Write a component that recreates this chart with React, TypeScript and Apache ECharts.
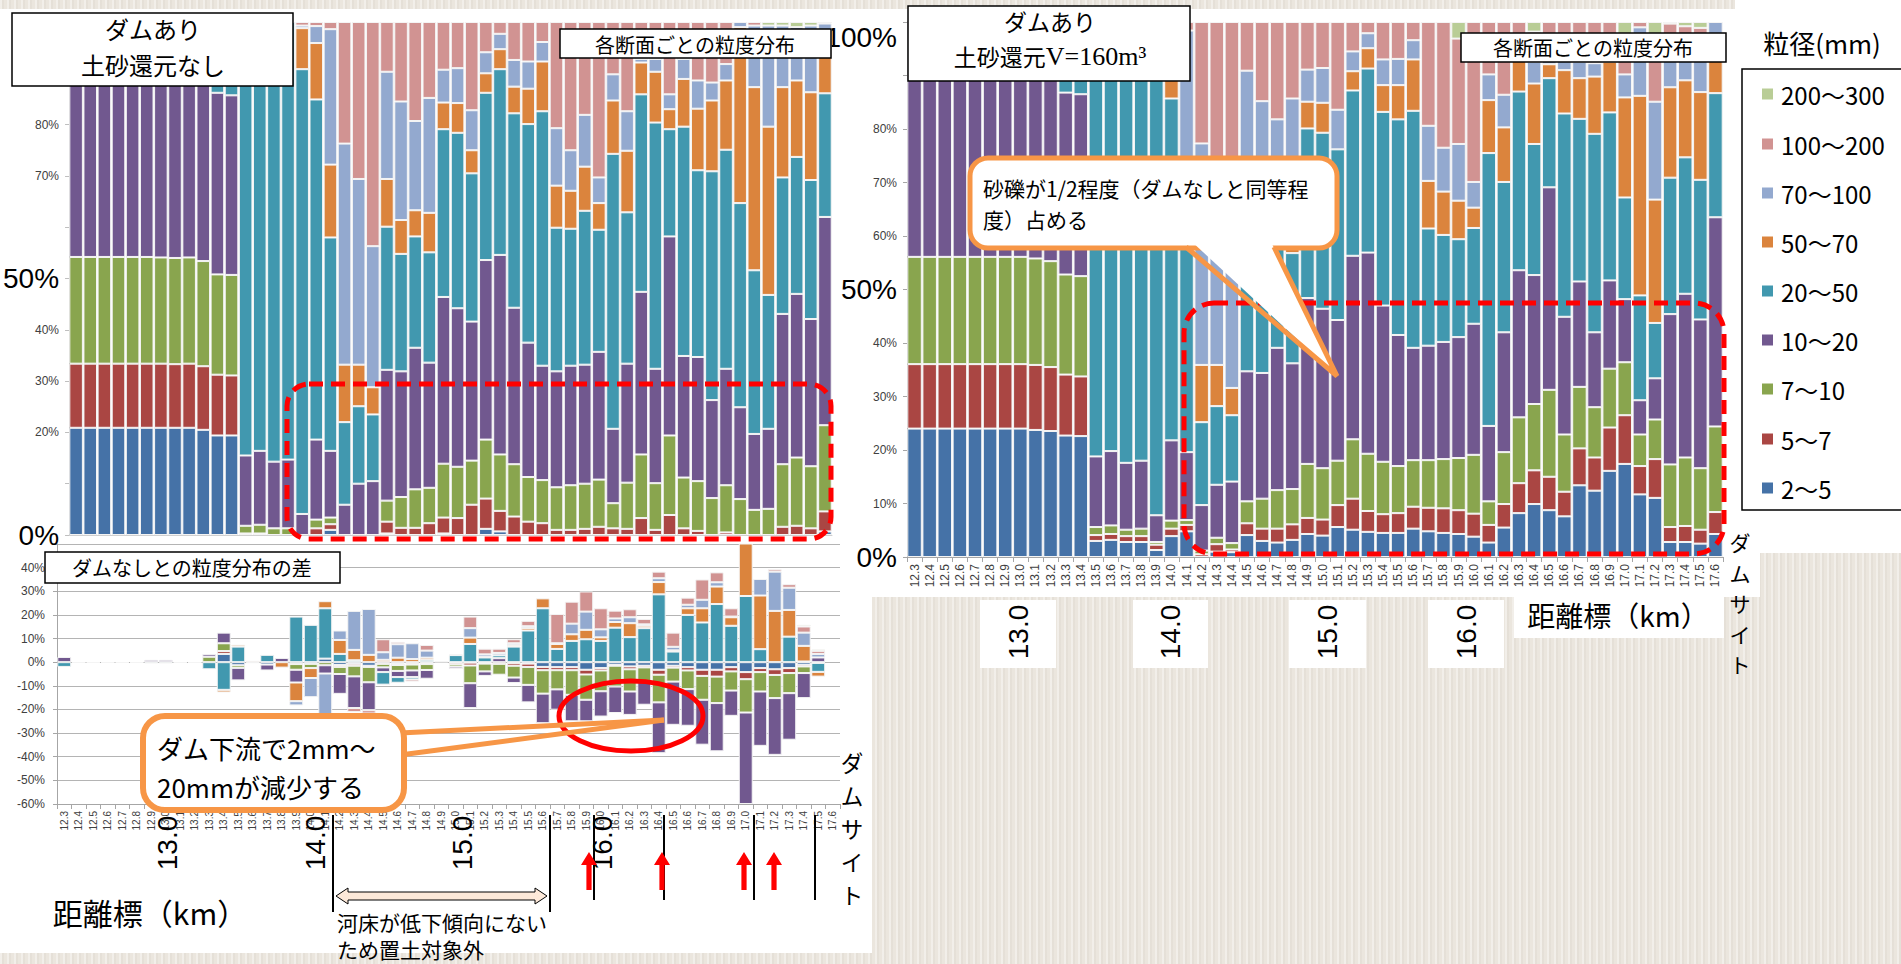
import React, { useEffect, useRef } from 'react';
import * as echarts from 'echarts';

const JP = '"Noto Sans CJK JP", "Noto Sans", sans-serif';
const NUM = '"Liberation Sans", Arial, sans-serif';
const NARROW = '"Liberation Sans Narrow", "Liberation Sans", Arial, sans-serif';
const SERIF = '"Liberation Serif", "DejaVu Serif", serif';

// ---------- categories & classes ----------
const categories = ['12.3','12.4','12.5','12.6','12.7','12.8','12.9','13.0','13.1','13.2','13.3','13.4','13.5','13.6','13.7','13.8','13.9','14.0','14.1','14.2','14.3','14.4','14.5','14.6','14.7','14.8','14.9','15.0','15.1','15.2','15.3','15.4','15.5','15.6','15.7','15.8','15.9','16.0','16.1','16.2','16.3','16.4','16.5','16.6','16.7','16.8','16.9','17.0','17.1','17.2','17.3','17.4','17.5','17.6'];
const sizeClasses = ['2〜5','5〜7','7〜10','10〜20','20〜50','50〜70','70〜100','100〜200','200〜300'];
const classColors = ['#4572a7','#aa4643','#89a54e','#71588f','#4198af','#db843d','#93a9cf','#d19392','#b9cd96'];

// ---------- top-left: dam, no sediment return (cumulative top of each class, %) ----------
const L_2_5 = [20.9,20.9,20.9,20.9,20.9,20.9,20.9,20.9,20.9,20.5, 19.4,19.4,0,0,0,0,0,0,1.0,0, 0,0,0.3,0,0,0,0.3,0,0,1.2, 0.7,0,0,0,0,0,0,0,0,0, 0,0,0,0,0,0,0,0,0,0, 0,0,0,0.7];
const L_5_7 = [33.4,33.4,33.4,33.4,33.4,33.4,33.4,33.3,33.4,32.9, 31.25,31.1,0.3,0.3,0,0,0,1.3,2.1,0, 0,0,2.6,1.4,1.4,2.3,3.4,3.3,5.9,7.1, 4.7,3.6,2.6,2.3,1.0,1.0,1.2,1.6,1.3,1.2, 3.3,1.0,3.9,1.3,0.8,0,0.5,0,0,0, 1.6,1.8,1.3,4.6];
const L_7_10 = [54.2,54.2,54.2,54.2,54.2,54.2,54.1,54.0,54.1,53.4, 50.8,50.7,1.8,2.0,1.3,1.3,0,3.0,3.4,0, 0,0,6.7,7.4,8.9,9.2,13.9,13.3,14.5,18.6, 15.7,13.8,11.3,10.7,9.3,9.7,10.0,10.8,6.2,10.2, 15.7,10.1,19.4,11.2,10.5,7.2,9.7,7.0,4.9,5.1, 13.8,15.1,13.4,21.4];
const L_10_20 = [100,100,100,100,100,100,100,100,100,100, 86.2,85.7,15.5,16.4,14.3,14.7,4.1,18.6,16.4,5.9, 10.0,10.5,32.2,31.9,36.5,33.6,46.4,44.2,41.6,53.6, 54.6,44.3,37.5,33.0,31.9,33.0,33.2,35.7,20.7,33.4, 47.4,32.4,58.2,34.9,34.7,26.3,32.4,24.9,19.7,20.7, 43.1,47.0,42.1,62.0];
const L_20_50 = [100,100,100,100,100,100,100,100,100,100, 100,100,100,100,100,100,90.8,84.9,58.0,22.0, 25.1,23.5,60.1,54.8,58.2,55.1,79.1,78.4,70.5,86.2, 90.8,82.2,80.1,82.6,59.9,59.7,63.2,59.5,74.3,62.9, 85.9,80.4,79.1,79.6,71.1,70.9,75.1,64.7,51.6,46.8, 69.7,73.7,69.2,86.1];
const L_50_70 = [100,100,100,100,100,100,100,100,100,100, 100,100,100,100,100,100,98.8,95.9,72.2,33.2, 33.2,28.8,69.4,61.4,63.3,62.8,84.3,84.2,75.0,90.0, 94.7,87.4,87.0,92.3,68.1,67.1,71.8,64.7,84.7,74.9, 92.1,90.3,83.0,88.9,83.1,84.7,88.6,99.0,87.3,79.6, 87.3,88.6,86.3,96.4];
const L_70_100 = [100,100,100,100,100,100,100,100,100,100, 100,100,100,100,100,100,99.3,99.2,98.6,76.3, 69.4,56.3,90.3,84.5,80.7,85.2,90.7,91.0,82.8,94.1, 97.7,92.6,92.3,96.1,79.3,75.0,81.9,69.7,89.8,82.6, 92.8,92.8,85.9,92.8,88.6,88.2,91.8,100,99.3,99.3, 99.3,99.0,99.3,99.7];
const L_100_200 = [100,100,100,100,100,100,100,100,100,100, 100,100,100,100,100,100,100,100,100,100, 100,100,100,100,100,100,100,100,100,100, 100,100,100,100,100,100,100,100,100,100, 100,100,100,100,100,100,100,100,100,99.3, 99.3,99.0,99.3,100];
const L_200_300 = categories.map(() => 100);

// ---------- top-right: dam, sediment return V=160m3 (cumulative, %) ----------
const R_2_5 = [24.0,24.0,24.0,24.0,24.0,24.0,24.0,24.0,23.75,23.55, 22.7,22.6,3.0,3.2,2.8,2.8,1.3,3.9,4.8,0, 1.0,0.9,4.1,3.0,2.7,3.2,4.3,4.0,5.6,5.1, 4.7,4.5,4.5,5.3,4.8,4.5,4.3,3.8,2.7,5.5, 8.2,9.9,8.75,7.6,13.4,12.4,16.1,17.4,11.7,11.05, 2.8,2.8,2.5,4.3];
const R_5_7 = [36.05,36.05,36.05,36.05,36.05,36.05,36.05,36.05,35.9,35.5, 34.1,33.75,4.1,4.3,3.9,3.9,2.3,5.3,6.0,0.5, 2.4,1.4,6.3,5.3,5.3,6.1,7.3,7.0,9.7,10.9, 8.6,8.0,8.2,9.4,9.2,9.1,8.75,8.1,6.0,9.9, 13.8,16.2,15.0,12.2,20.3,18.6,24.2,26.5,17.0,18.3, 5.6,5.8,5.1,8.4];
const R_7_10 = [56.1,56.1,56.1,56.1,56.1,56.1,56.1,56.1,55.8,55.3, 52.8,52.5,5.6,5.9,5.1,5.3,2.8,6.8,6.9,1.2, 3.6,2.6,10.4,10.9,12.5,12.7,17.4,16.6,18.0,22.0, 19.3,17.8,17.0,18.1,18.1,18.3,18.5,19.1,10.4,19.6, 26.1,28.6,31.25,22.9,31.8,28.0,35.2,36.4,22.9,25.7, 17.3,18.6,16.6,24.4];
const R_10_20 = [100,100,100,100,100,100,100,100,100,100, 86.8,86.5,18.8,19.8,17.6,18.0,7.8,21.8,19.6,9.7, 13.5,14.1,34.7,34.4,39.1,36.2,48.4,46.4,44.3,56.3, 56.9,47.0,41.5,39.1,39.5,40.2,41.1,43.6,24.5,42.0, 53.6,52.7,69.1,44.9,51.5,42.0,51.7,48.2,29.3,33.4, 45.4,49.2,44.4,63.5];
const R_20_50 = [100,100,100,100,100,100,100,100,100,100, 100,100,100,100,100,100,100,85.7,61.0,25.2, 28.2,26.5,60.0,58.0,63.0,56.8,80.1,79.3,76.2,87.2, 91.3,83.2,81.8,83.4,61.4,60.2,59.4,61.5,75.5,70.1, 87.0,77.2,89.5,82.9,81.9,79.1,83.1,67.2,48.9,43.75, 70.9,74.7,70.5,86.7];
const R_50_70 = [100,100,100,100,100,100,100,100,100,100, 100,100,100,100,100,100,100,95.0,72.0,35.9, 35.9,31.6,70.0,64.0,68.0,63.0,85.1,84.9,76.2,90.8, 95.1,88.2,88.2,93.0,70.3,68.3,66.6,65.3,85.4,80.3, 93.0,88.5,92.1,91.0,89.5,89.8,92.6,85.9,86.2,66.8, 87.8,89.1,86.9,96.0];
const R_70_100 = [100,100,100,100,100,100,100,100,100,100, 100,100,100,100,100,100,100,98.0,98.4,77.3, 70.0,58.0,90.9,85.2,81.8,85.7,91.1,91.4,83.6,94.5, 97.9,93.0,93.1,96.6,80.6,76.5,77.2,70.1,90.2,86.4, 96.0,92.6,95.0,93.0,92.6,92.3,92.6,90.2,99.0,85.1, 92.8,93.0,93.0,100];
const R_100_200 = [100,100,100,100,100,100,100,100,100,100, 100,100,100,100,100,100,100,100,100,100, 100,100,100,100,100,100,100,100,100,100, 100,100,100,100,100,100,96.9,100,100,100, 100,98.2,100,100,100,100,100,97.0,100,97.0, 99.7,99.2,98.9,100];
const R_200_300 = categories.map(() => 100);

// ---------- bottom-left: difference from "no dam" (percentage points) ----------
const D_2_5 = [0,0,0,0,0,0,0,0,0,0, 0,3.5,-1.3,0,-1.0,0,-0.8,-0.7,1.5,-1.2, -0.7,-1.5,0,-0.6,-0.5,-0.5,0,-0.2,-0.2,-0.2, 0,-0.4,-0.6,-2.0,-2.1,-2.1,-3.2,-2.5,-1.1,-1.8, -1.5,-3.2,-1.5,-2.1,-3.2,-3.2,-2.1,-4.2,-2.5,-3.0, -2.5,-1.1,-0.3,0];
const D_5_7 = [0,0,0,0,0,0,0,0,0,0, 0,1.2,0,0,0,0,0,0,0,-0.8, -0.8,-0.5,-0.7,-0.6,-0.5,-0.3,0,-0.7,-1.2,-0.4, -0.7,-1.1,-1.4,-1.4,-1.3,-1.3,-2.0,-1.0,-0.4,-1.2, -0.7,-2.1,-0.8,-1.4,-2.6,-2.9,-1.8,-3.0,-1.7,-2.4, -2.1,-0.7,0,0];
const D_7_10 = [0,0,0,0,0,0,0,0,0,0, 2.3,3.3,-1.1,0,0,0,-2.4,-1.8,-1.3,-3.0, -4.5,-6.5,-1.5,-2.5,-2.5,-2.5,0,-1.0,-7.5,-3.3, -4.6,-5.0,-7.6,-9.9,-8.1,-10.4,-10.7,-8.8,-8.8,-9.4, -6.0,-11.7,-5.9,-7.9,-10.1,-11.2,-8.1,-14.1,-8.2,-9.8, -8.5,-2.8,0,0];
const D_10_20 = [2.2,0,0,0,0,0,1.0,1.0,0,0, 1.1,4.5,-5.3,0,-2.5,1.8,-5.4,0,-3.5,-8.4, -13.4,-11.8,-2.0,-2.6,-2.8,-3.7,0,-1.0,-10.5,-1.9, 1.7,-2.3,-7.4,-12.5,-8.6,-11.2,-9.1,-10.7,-11.2,-9.9, -9.8,-21.5,-18.3,-15.5,-19.0,-20.4,-10.7,-38.7,-23.0,-24.0, -19.7,-10.6,2.0,0];
const D_20_50 = [-2.0,-0.3,-0.3,-0.3,-0.3,-0.3,-0.5,-0.5,-0.3,-0.3, -3.0,-11.7,6.6,-0.4,3.1,0,19.3,15.8,21.3,3.5, 0.8,0,-5.3,-2.4,-1.0,1.0,0.3,3.0,7.7,2.0, 1.2,6.6,13.4,22.8,5.6,9.0,9.7,9.0,14.6,10.6, 14.4,28.7,4.5,20.0,16.8,24.6,15.4,28.0,5.5,0, 10.8,0.3,-3.8,0];
const D_50_70 = [0,0,0,0,0,0,0,0,0,0, 0,-1.1,0.8,0.6,0,-2.3,-7.9,-4.2,3.0,5.9, 4.4,3.1,1.0,1.9,1.3,0.9,0,0.3,2.7,0.3, 0,0.6,1.0,4.2,2.1,2.8,4.0,1.5,2.4,5.9, 1.0,5.2,0.5,2.8,6.0,7.4,3.6,24.0,22.7,21.7, 11.3,6.6,-2.0,0];
const D_70_100 = [0,0,0,0,0,0,0,0,0,0, 0,0,0,0,0,0,-1.8,-8.1,-18.5,4.0, 16.5,19.4,3.2,5.7,6.7,3.0,0,0,4.0,1.0, 1.0,0.8,0.8,0,0.3,4.5,7.7,3.4,1.5,2.5, 0.6,1.6,1.5,1.5,3.6,1.8,0.3,0,7.0,16.6, 9.4,5.6,1.5,0];
const D_100_200 = [0,0,0,0,0,0,0,0,0,0, 0,0,0,0,0,0,0,0,0,0, -1.7,-1.4,5.5,1.0,-0.9,2.4,0,0,4.9,2.4, 1.8,1.7,2.3,0,12.4,9.3,8.5,8.9,3.3,3.4, 2.3,2.8,6.0,3.0,8.6,4.2,3.5,0,0,1.0, 1.5,2.6,1.3,0];
const D_200_300 = [0,0,0,0,0,0,0,0,0,0, 0,0,0,0,0,0,0,0,0,0, 0,0,0,0,0,0,0,0,0,0, 0,0,0,0,0,0,0,0,0,0, 0,0,0,0,0,0,0,0,0,0, 0,0.7,0.6,0];

// ---------- tick labels ----------
const leftYLabels = ['0%', '', '20%', '30%', '40%', '50%', '', '70%', '80%', '', ''];
const rightYLabels = ['0%', '10%', '20%', '30%', '40%', '50%', '60%', '70%', '80%', '', '100%'];
const bigYTicks = [0, 50, 100];
const kmMarks = ['13.0', '14.0', '15.0', '16.0'];
const damSiteChars = ['ダ', 'ム', 'サ', 'イ', 'ト'];

// ---------- helpers ----------
function toSegments(cums: number[][]) {
  return cums.map((arr, j) =>
    arr.map((v, i) => {
      const prev = j === 0 ? 0 : cums[j - 1][i];
      const d = Math.round((v - prev) * 100) / 100;
      return d > 0 ? d : null;
    })
  );
}
const clean = (arr: number[]) => arr.map((v) => (v === 0 ? null : v));

function stackSeries(values: (number | null)[][], stack: string, idx: number) {
  return values.map((vals, j) => ({
    type: 'bar',
    name: sizeClasses[j],
    stack,
    xAxisIndex: idx,
    yAxisIndex: idx,
    data: vals,
    barCategoryGap: '4%',
    silent: true,
    itemStyle: { color: classColors[j], borderColor: '#f4f4f4', borderWidth: 1 },
  }));
}

function yLabelFormatter(labels: string[]) {
  return (v: number) => {
    const t = labels[Math.round(v / 10)];
    if (!t) return '';
    if (v === 100) return `{big100|${t}}`;
    if (bigYTicks.includes(v)) return `{big|${t}}`;
    return t;
  };
}
const bigRich = {
  big: { fontSize: 28, color: '#000', fontFamily: NARROW },
  big100: { fontSize: 28, color: '#000', fontFamily: NARROW, padding: [30, 0, 0, 0] },
};

const ORANGE = '#f79646';
const RED = '#ff0000';

function txt(text: string, x: number, y: number, fontSize: number, extra: any = {}) {
  return {
    type: 'text', x, y, z: 110,
    style: { text, fontSize, fontFamily: JP, fill: '#000', align: 'center', verticalAlign: 'middle', ...extra },
  };
}
function box(x: number, y: number, w: number, h: number) {
  return {
    type: 'rect', z: 105,
    shape: { x, y, width: w, height: h },
    style: { fill: '#fff', stroke: '#000', lineWidth: 1.5 },
  };
}
function upArrow(cx: number) {
  const top = 852, bottom = 890, hh = 13, hw = 8, sw = 2.6;
  return {
    type: 'polygon', z: 110,
    shape: { points: [[cx, top], [cx + hw, top + hh], [cx + sw, top + hh], [cx + sw, bottom], [cx - sw, bottom], [cx - sw, top + hh], [cx - hw, top + hh]] },
    style: { fill: RED },
  };
}

const panels = [
  [0, 9, 872, 944],
  [840, 9, 920, 588],
  [1735, 0, 166, 553],
  [980, 600, 76, 68],
  [1133, 600, 75, 68],
  [1289, 600, 77, 68],
  [1428, 600, 76, 68],
  [1514, 594, 210, 44],
];

export default function App() {
  const ref = useRef<HTMLDivElement>(null);

  useEffect(() => {
    if (!ref.current) return;
    const chart = echarts.init(ref.current, null, { renderer: 'svg' });

    const leftSeg = toSegments([L_2_5, L_5_7, L_7_10, L_10_20, L_20_50, L_50_70, L_70_100, L_100_200, L_200_300]);
    const rightSeg = toSegments([R_2_5, R_5_7, R_7_10, R_10_20, R_20_50, R_50_70, R_70_100, R_100_200, R_200_300]);
    const diffSeg = [D_2_5, D_5_7, D_7_10, D_10_20, D_20_50, D_50_70, D_70_100, D_100_200, D_200_300].map(clean);

    const axisGray = '#a6a6a6';
    const xAxisBase = (gridIndex: number, fontSize: number, show: boolean) => ({
      gridIndex, type: 'category', data: categories,
      axisLine: { show: true, onZero: false, lineStyle: { color: show ? axisGray : '#d0d0d0' } },
      axisTick: { show, interval: 0, length: 5, lineStyle: { color: axisGray } },
      axisLabel: { show, interval: 0, rotate: 90, fontSize, color: '#404040', fontFamily: NUM, margin: 7 },
    });

    const graphic: any[] = [];
    // left title
    graphic.push(box(12, 13, 281, 73));
    graphic.push(txt('ダムあり', 153, 28, 24));
    graphic.push(txt('土砂還元なし', 153, 64, 24));
    graphic.push(box(560, 29, 271, 29));
    graphic.push(txt('各断面ごとの粒度分布', 695, 44, 20));
    // right title
    graphic.push(box(908, 6, 282, 75));
    graphic.push(txt('ダムあり', 1050, 21, 23));
    graphic.push({
      type: 'text', x: 1050, y: 56, z: 110,
      style: {
        text: '{a|土砂還元}{b|V=160m³}', align: 'center', verticalAlign: 'middle',
        rich: { a: { fontSize: 23, fontFamily: JP, fill: '#000' }, b: { fontSize: 26, fontFamily: SERIF, fill: '#000' } },
      },
    });
    graphic.push(box(1461, 33, 265, 29));
    graphic.push(txt('各断面ごとの粒度分布', 1593, 47.5, 20));
    // legend
    graphic.push(txt('粒径(mm)', 1822, 42, 26));
    graphic.push(box(1742, 69, 175, 441));
    const legendYs = [94, 144, 193, 242, 291, 340, 389, 439, 488];
    for (let k = 0; k < 9; k++) {
      const ci = 8 - k;
      graphic.push({ type: 'rect', z: 110, shape: { x: 1762, y: legendYs[k] - 5.5, width: 11, height: 11 }, style: { fill: classColors[ci] } });
      graphic.push(txt(sizeClasses[ci], 1781, legendYs[k], 24, { align: 'left' }));
    }
    // red dashed frames
    graphic.push({ type: 'rect', z: 108, shape: { x: 287, y: 384, width: 544, height: 155, r: 22 }, style: { fill: 'rgba(0,0,0,0)', stroke: RED, lineWidth: 5, lineDash: [14, 8] } });
    graphic.push({ type: 'rect', z: 108, shape: { x: 1184, y: 303, width: 540, height: 251, r: 30 }, style: { fill: 'rgba(0,0,0,0)', stroke: RED, lineWidth: 5, lineDash: [14, 8] } });
    // right callout
    graphic.push({ type: 'rect', z: 111, shape: { x: 970, y: 158, width: 367, height: 90, r: 18 }, style: { fill: '#fff', stroke: ORANGE, lineWidth: 5 } });
    graphic.push({ type: 'polygon', z: 112, shape: { points: [[1190, 240], [1337, 376], [1270, 240]] }, style: { fill: '#fff' } });
    graphic.push({ type: 'polyline', z: 112, shape: { points: [[1186, 247], [1337, 376], [1274, 247]] }, style: { stroke: ORANGE, lineWidth: 5, fill: null } });
    graphic.push({ type: 'text', x: 983, y: 188, z: 113, style: { text: '砂礫が1/2程度（ダムなしと同等程', fontSize: 21, fontFamily: JP, fill: '#000', align: 'left', verticalAlign: 'middle' } });
    graphic.push({ type: 'text', x: 983, y: 219, z: 113, style: { text: '度）占める', fontSize: 21, fontFamily: JP, fill: '#000', align: 'left', verticalAlign: 'middle' } });
    // diff title
    graphic.push(box(45, 552, 295, 31));
    graphic.push(txt('ダムなしとの粒度分布の差', 72, 567.5, 20, { align: 'left' }));
    // red ellipse
    graphic.push({ type: 'ellipse', z: 108, shape: { cx: 631, cy: 716, rx: 72, ry: 35 }, style: { fill: 'rgba(0,0,0,0)', stroke: RED, lineWidth: 5 } });
    // left callout
    graphic.push({ type: 'polyline', z: 109, shape: { points: [[400, 733], [664, 720]] }, style: { stroke: ORANGE, lineWidth: 5, fill: null } });
    graphic.push({ type: 'polyline', z: 109, shape: { points: [[400, 755], [664, 720]] }, style: { stroke: ORANGE, lineWidth: 5, fill: null } });
    graphic.push({ type: 'rect', z: 111, shape: { x: 143, y: 716, width: 261, height: 94, r: 22 }, style: { fill: '#fff', stroke: ORANGE, lineWidth: 6 } });
    graphic.push({ type: 'text', x: 157, y: 747, z: 113, style: { text: 'ダム下流で2mm〜', fontSize: 26, fontFamily: JP, fill: '#000', align: 'left', verticalAlign: 'middle' } });
    graphic.push({ type: 'text', x: 157, y: 786, z: 113, style: { text: '20mmが減少する', fontSize: 26, fontFamily: JP, fill: '#000', align: 'left', verticalAlign: 'middle' } });
    // km marks
    const leftKmX = [167, 315, 462, 602];
    kmMarks.forEach((m, i) => graphic.push({ type: 'text', x: leftKmX[i], y: 843, z: 110, rotation: Math.PI / 2, style: { text: m, fontSize: 28, fontFamily: NUM, fill: '#000', align: 'center', verticalAlign: 'middle' } }));
    const rightKmX = [1018, 1170, 1327, 1466];
    kmMarks.forEach((m, i) => graphic.push({ type: 'text', x: rightKmX[i], y: 632, z: 110, rotation: Math.PI / 2, style: { text: m, fontSize: 28, fontFamily: NUM, fill: '#000', align: 'center', verticalAlign: 'middle' } }));
    // vertical black lines
    [[333, 912], [550, 912], [594, 900], [664, 900], [754, 900], [815, 900]].forEach(([x, y2]) =>
      graphic.push({ type: 'line', z: 110, shape: { x1: x, y1: 815, x2: x, y2 }, style: { stroke: '#000', lineWidth: 2 } })
    );
    // red arrows
    [589, 662, 744, 774].forEach((x) => graphic.push(upArrow(x)));
    // double arrow
    graphic.push({
      type: 'polygon', z: 110,
      shape: { points: [[336, 896], [348, 888], [348, 892], [535, 892], [535, 888], [547, 896], [535, 904], [535, 900], [348, 900], [348, 904]] },
      style: { fill: '#fde9d9', stroke: '#000', lineWidth: 1 },
    });
    graphic.push(txt('河床が低下傾向にない', 337, 922, 21, { align: 'left' }));
    graphic.push(txt('ため置土対象外', 337, 949, 21, { align: 'left' }));
    graphic.push(txt('距離標（km）', 150, 912, 30));
    graphic.push(txt('距離標（km）', 1618, 615, 28));
    // vertical "ダムサイト" labels, one glyph per text so that they do not overlap
    damSiteChars.forEach((c, i) => graphic.push(txt(c, 852, 762 + i * 33, 22.5)));
    damSiteChars.forEach((c, i) => graphic.push(txt(c, 1740, 542 + i * 30.5, 21)));

    chart.setOption({
      animation: false,
      backgroundColor: 'transparent',
      grid: [
        { left: 58, top: 22, width: 774, height: 513 },
        { left: 57, top: 544, width: 783, height: 260 },
        { left: 907, top: 22, width: 816, height: 535 },
      ],
      xAxis: [xAxisBase(0, 10, false), xAxisBase(1, 10, true), xAxisBase(2, 12, true)],
      yAxis: [
        {
          gridIndex: 0, type: 'value', min: 0, max: 100, interval: 10,
          splitLine: { show: false },
          axisLine: { show: true, lineStyle: { color: '#bfbfbf' } },
          axisTick: { show: true, length: 4, lineStyle: { color: '#bfbfbf' } },
          axisLabel: { formatter: yLabelFormatter(leftYLabels), fontSize: 12, color: '#404040', fontFamily: NUM, margin: 10, rich: bigRich },
        },
        {
          gridIndex: 1, type: 'value', min: -60, max: 50, interval: 10,
          splitLine: { show: true, lineStyle: { color: '#b4b4b4', width: 1.2 } },
          axisLine: { show: true, lineStyle: { color: axisGray } },
          axisTick: { show: true, length: 4, lineStyle: { color: axisGray } },
          axisLabel: { formatter: (v: number) => (v === 50 ? '' : `${v}%`), fontSize: 12, color: '#404040', fontFamily: NUM, margin: 12 },
        },
        {
          gridIndex: 2, type: 'value', min: 0, max: 100, interval: 10,
          splitLine: { show: false },
          axisLine: { show: true, lineStyle: { color: axisGray } },
          axisTick: { show: true, length: 4, lineStyle: { color: axisGray } },
          axisLabel: { formatter: yLabelFormatter(rightYLabels), fontSize: 12, color: '#404040', fontFamily: NUM, margin: 10, rich: bigRich },
        },
      ],
      series: [
        ...stackSeries(leftSeg, 'L', 0),
        ...stackSeries(diffSeg, 'D', 1),
        ...stackSeries(rightSeg, 'R', 2),
      ],
      graphic,
    });

    return () => chart.dispose();
  }, []);

  const texture =
    'repeating-linear-gradient(90deg, rgba(255,255,255,0.35) 0px, rgba(255,255,255,0.35) 2px, rgba(120,110,95,0.05) 2px, rgba(120,110,95,0.05) 4px, rgba(255,255,255,0) 4px, rgba(255,255,255,0) 7px), #ebe6de';

  return (
    <div style={{ position: 'fixed', left: 0, top: 0, width: 1901, height: 964, background: texture, overflow: 'hidden' }}>
      {panels.map((p, i) => (
        <div key={i} style={{ position: 'absolute', left: p[0], top: p[1], width: p[2], height: p[3], background: '#fff' }} />
      ))}
      <div ref={ref} style={{ position: 'absolute', left: 0, top: 0, width: 1901, height: 964 }} />
    </div>
  );
}
